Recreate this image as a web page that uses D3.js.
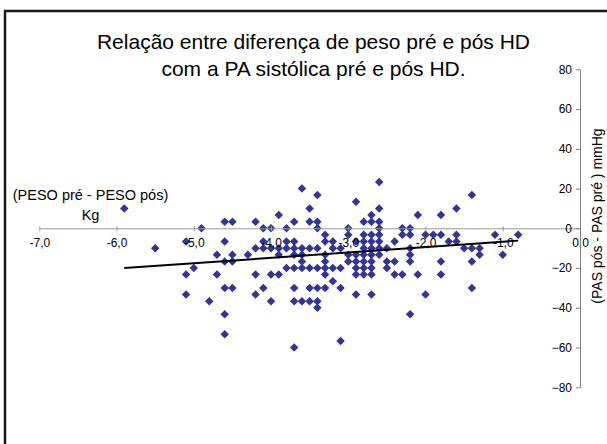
<!DOCTYPE html>
<html>
<head>
<meta charset="utf-8">
<script src="https://cdn.jsdelivr.net/npm/d3@7"></script>
<style>
  html, body { margin: 0; padding: 0; background: #fff; }
  svg { display: block; font-family: "Liberation Sans", Arial, sans-serif; }
</style>
</head>
<body>
<svg id="chart" width="607" height="444"></svg>
<script>
// ---- data ----
const titleLines = ["Relação entre diferença de peso pré e pós HD", "com a PA sistólica pré e pós HD."];
const xTitleLines = ["(PESO pré - PESO pós)", "Kg"];
const yTitle = "(PAS pós - PAS pré ) mmHg";
const xTicks = [-7, -6, -5, -4, -3, -2, -1, 0];
const yTicks = [-80, -60, -40, -20, 0, 20, 40, 60, 80];

const pesoDiff = [
  -5.9,
  -5.5,
  -5.1, -5.1, -5.1,
  -5.0,
  -4.9,
  -4.8,
  -4.7, -4.7,
  -4.6, -4.6, -4.6, -4.6, -4.6, -4.6,
  -4.5, -4.5, -4.5, -4.5,
  -4.3,
  -4.2, -4.2, -4.2, -4.2,
  -4.1, -4.1, -4.1, -4.1,
  -4.0, -4.0, -4.0, -4.0,
  -3.9, -3.9, -3.9, -3.9,
  -3.8, -3.8, -3.8, -3.8,
  -3.7, -3.7, -3.7, -3.7, -3.7, -3.7, -3.7, -3.7,
  -3.6, -3.6, -3.6, -3.6, -3.6, -3.6,
  -3.5, -3.5, -3.5, -3.5, -3.5, -3.5,
  -3.4, -3.4, -3.4, -3.4, -3.4, -3.4, -3.4, -3.4,
  -3.3, -3.3, -3.3, -3.3, -3.3, -3.3, -3.3,
  -3.2, -3.2, -3.2, -3.2,
  -3.1, -3.1, -3.1, -3.1,
  -3.0, -3.0, -3.0, -3.0,
  -2.9, -2.9, -2.9, -2.9, -2.9, -2.9, -2.9,
  -2.8, -2.8, -2.8, -2.8, -2.8, -2.8, -2.8, -2.8,
  -2.7, -2.7, -2.7, -2.7, -2.7, -2.7, -2.7, -2.7, -2.7, -2.7,
  -2.6, -2.6, -2.6, -2.6, -2.6, -2.6, -2.6, -2.6,
  -2.5, -2.5, -2.5,
  -2.4, -2.4, -2.4,
  -2.3, -2.3, -2.3,
  -2.2, -2.2, -2.2, -2.2, -2.2, -2.2,
  -2.1, -2.1,
  -2.0, -2.0,
  -1.9,
  -1.8, -1.8, -1.8, -1.8,
  -1.7,
  -1.6, -1.6, -1.6,
  -1.5,
  -1.4, -1.4, -1.4, -1.4,
  -1.3, -1.3,
  -1.1,
  -1.0,
  -0.8
];
const pasDiff = [
  10,
  -10,
  -6.7, -23.3, -33.3,
  -20,
  0,
  -36.7,
  -13.3, -23.3,
  3.3, -6.7, -16.7, -30, -43.3, -53.3,
  3.3, -13.3, -16.7, -30,
  -13.3,
  3.3, -10, -23.3, -33.3,
  0, -6.7, -10, -30,
  0, -10, -23.3, -36.7,
  6.7, -10, -13.3, -23.3,
  0, -6.7, -10, -20,
  3.3, -6.7, -10, -13.3, -20, -30, -36.7, -60,
  20, -10, -13.3, -16.7, -20, -36.7,
  10, 3.3, -10, -20, -30, -36.7,
  16.7, 3.3, 0, -10, -20, -30, -36.7, -40,
  -3.3, -6.7, -13.3, -16.7, -20, -23.3, -30,
  -6.7, -10, -20, -26.7,
  -10, -20, -30, -56.7,
  0, -3.3, -13.3, -16.7,
  13.3, -6.7, -13.3, -16.7, -20, -23.3, -33.3,
  3.3, -3.3, -6.7, -10, -13.3, -16.7, -20, -23.3,
  6.7, 3.3, -3.3, -6.7, -10, -13.3, -16.7, -20, -23.3, -33.3,
  23.3, 10, 3.3, 0, -3.3, -6.7, -10, -13.3,
  -10, -16.7, -20,
  -6.7, -16.7, -23.3,
  0, -3.3, -23.3,
  0, -3.3, -10, -13.3, -16.7, -43.3,
  6.7, -23.3,
  -3.3, -33.3,
  -3.3,
  6.7, -3.3, -16.7, -23.3,
  -6.7,
  10, -3.3, -6.7,
  -10,
  16.7, -10, -16.7, -30,
  -10, -13.3,
  -3.3,
  -13.3,
  -3.3
];
// linear trend line endpoints
const trendX = [-5.9, -0.8];
const trendY = [-20.0, -6.2];

// ---- drawing ----
const svg = d3.select("#chart");
const W = 607, H = 444;

svg.append("rect").attr("x", 0).attr("y", 0).attr("width", W).attr("height", H).attr("fill", "#fff");
// chart border (extends past right/bottom edges as in the reference)
svg.append("rect")
  .attr("x", 5).attr("y", 11).attr("width", 700).attr("height", 500)
  .attr("fill", "none").attr("stroke", "#1a1a1a").attr("stroke-width", 2.5);

const x = d3.scaleLinear().domain([-7, 0]).range([39.3, 580]);
const y = d3.scaleLinear().domain([-80, 80]).range([387.3, 69.3]);

// title
const title = svg.append("text")
  .attr("text-anchor", "middle").attr("font-size", 21).attr("fill", "#000");
titleLines.forEach((t, i) => {
  title.append("tspan").attr("x", 313.5).attr("y", 49 + i * 27).text(t);
});

// points
const pts = pesoDiff.map((d, i) => ({ x: d, y: pasDiff[i] }));
const sym = d3.symbol().type(d3.symbolSquare).size(36);
svg.append("g").selectAll("path").data(pts).join("path")
  .attr("d", sym)
  .attr("transform", d => `translate(${x(d.x)},${y(d.y)}) rotate(45)`)
  .attr("fill", "#333399");

// trend line
const line = d3.line().x(d => x(d[0])).y(d => y(d[1]));
svg.append("path")
  .datum(trendX.map((d, i) => [d, trendY[i]]))
  .attr("d", line)
  .attr("fill", "none").attr("stroke", "#000").attr("stroke-width", 2);

// x axis (crosses at y = 0)
const xAxis = d3.axisBottom(x).tickValues(xTicks).tickSizeInner(3).tickSizeOuter(0)
  .tickFormat(d => d.toFixed(1).replace("-0.0", "0.0").replace(".", ","));
const gx = svg.append("g").attr("transform", `translate(0,${y(0)})`).call(xAxis);
gx.select(".domain").attr("stroke", "#999");
gx.selectAll(".tick line").attr("stroke", "#999").attr("y1", -2).attr("y2", 3);
gx.selectAll(".tick text").attr("font-size", 12).attr("font-family", "Liberation Sans, Arial, sans-serif")
  .attr("fill", "#000").attr("y", 19.2).attr("dy", 0);

// y axis (crosses at x = 0)
const yAxis = d3.axisLeft(y).tickValues(yTicks).tickSizeInner(4).tickSizeOuter(0).tickPadding(4);
const gy = svg.append("g").attr("transform", `translate(${x(0)},0)`).call(yAxis);
gy.select(".domain").attr("stroke", "#808080");
gy.selectAll(".tick line").attr("stroke", "#808080");
gy.selectAll(".tick text").attr("font-size", 12).attr("font-family", "Liberation Sans, Arial, sans-serif").attr("fill", "#000");

// x axis title
const xt = svg.append("text").attr("text-anchor", "middle").attr("font-size", 14.5).attr("fill", "#000");
xTitleLines.forEach((t, i) => {
  xt.append("tspan").attr("x", 90.5).attr("y", 200 + i * 19.5).text(t);
});

// y axis title (kept fully inside the picture)
svg.append("text")
  .attr("transform", "translate(602,216) rotate(-90)")
  .attr("text-anchor", "middle").attr("font-size", 14).attr("fill", "#000")
  .text(yTitle);
</script>
</body>
</html>
